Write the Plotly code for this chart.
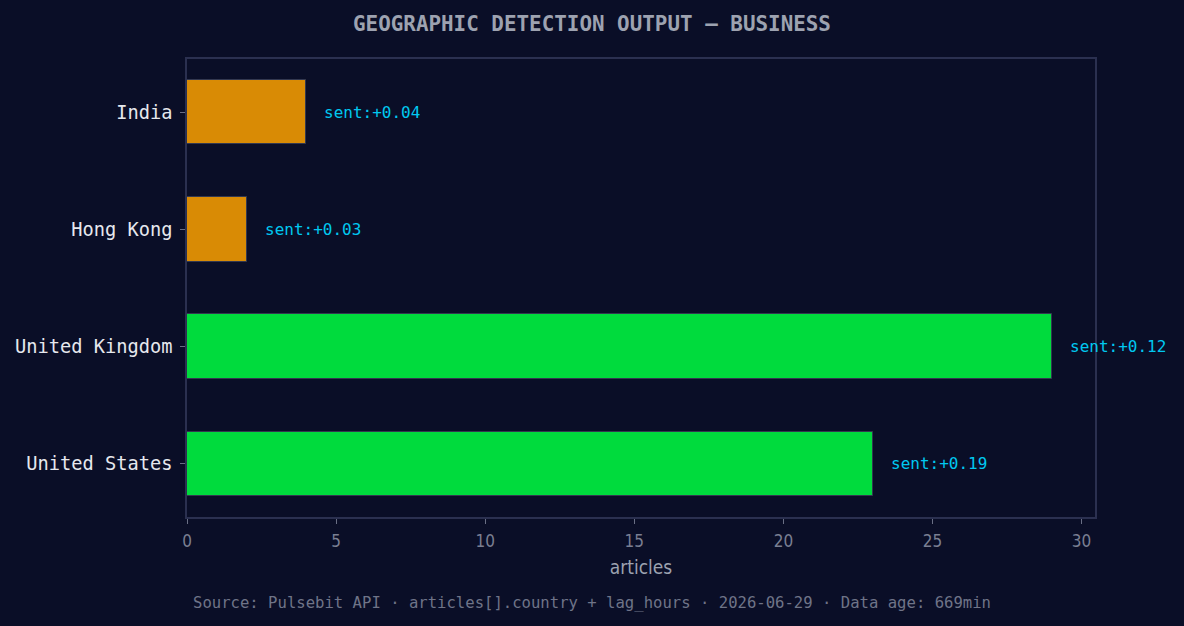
import plotly.graph_objects as go

countries = ["United States", "United Kingdom", "Hong Kong", "India"]
articles = [23, 29, 2, 4]
sentiment = [0.19, 0.12, 0.03, 0.04]
bar_colors = ["#00db3d", "#00db3d", "#d98b05", "#d98b05"]
x_ticks = [0, 5, 10, 15, 20, 25, 30]

BG = "#0a0e27"
SPINE = "#2b3050"
MONO = "DejaVu Sans Mono"
COND = "DejaVu Sans Condensed, DejaVu Sans"

fig = go.Figure()
fig.add_trace(go.Bar(
    x=articles, y=list(range(len(countries))), orientation="h",
    width=0.55,
    marker=dict(color=bar_colors, line=dict(color="#333850", width=1)),
    hoverinfo="skip",
))

for i, (v, s) in enumerate(zip(articles, sentiment)):
    fig.add_annotation(
        x=v + 0.6, y=i, text=f"sent:{s:+.2f}", showarrow=False,
        xanchor="left", yanchor="middle", xshift=-2,
        font=dict(family=MONO, size=16, color="#00c8f0"),
    )

FIG_CX = (592 - 187) / 908
fig.add_annotation(
    xref="paper", yref="paper", x=FIG_CX, y=1, yshift=35,
    text="<b>GEOGRAPHIC DETECTION OUTPUT — BUSINESS</b>", showarrow=False,
    xanchor="center", yanchor="middle",
    font=dict(family=MONO, size=20.9, color="#9da2b0"),
)
fig.add_annotation(
    xref="paper", yref="paper", x=FIG_CX, y=0, yshift=-86,
    text="Source: Pulsebit API · articles[].country + lag_hours · 2026-06-29 · Data age: 669min",
    showarrow=False, xanchor="center", yanchor="middle",
    font=dict(family=MONO, size=15.6, color="#6f7488"),
)

fig.update_layout(
    width=1184, height=626,
    margin=dict(l=187, r=89, t=59, b=109),
    paper_bgcolor=BG, plot_bgcolor=BG,
    showlegend=False,
    bargap=0,
    xaxis=dict(
        range=[0, 30.45], tickvals=x_ticks, ticktext=[str(t) for t in x_ticks],
        showgrid=False, zeroline=False,
        showline=True, linecolor=SPINE, linewidth=1.5, mirror=True,
        ticks="outside", ticklen=5, tickcolor="#6a6f85", tickwidth=1,
        ticklabelstandoff=3,
        tickfont=dict(family=COND, size=17, color="#7a7f92"),
        title=dict(text="articles", font=dict(family=COND, size=19, color="#9da2b0"), standoff=11),
    ),
    yaxis=dict(
        range=[-0.4525, 3.4525], tickvals=list(range(len(countries))), ticktext=countries,
        showgrid=False, zeroline=False,
        showline=True, linecolor=SPINE, linewidth=1.5, mirror=True,
        ticks="outside", ticklen=5, tickcolor="#6a6f85", tickwidth=1,
        ticklabelstandoff=4,
        tickfont=dict(family=MONO, size=18.7, color="#e6e8ee"),
    ),
)

fig.write_html("out.html")
